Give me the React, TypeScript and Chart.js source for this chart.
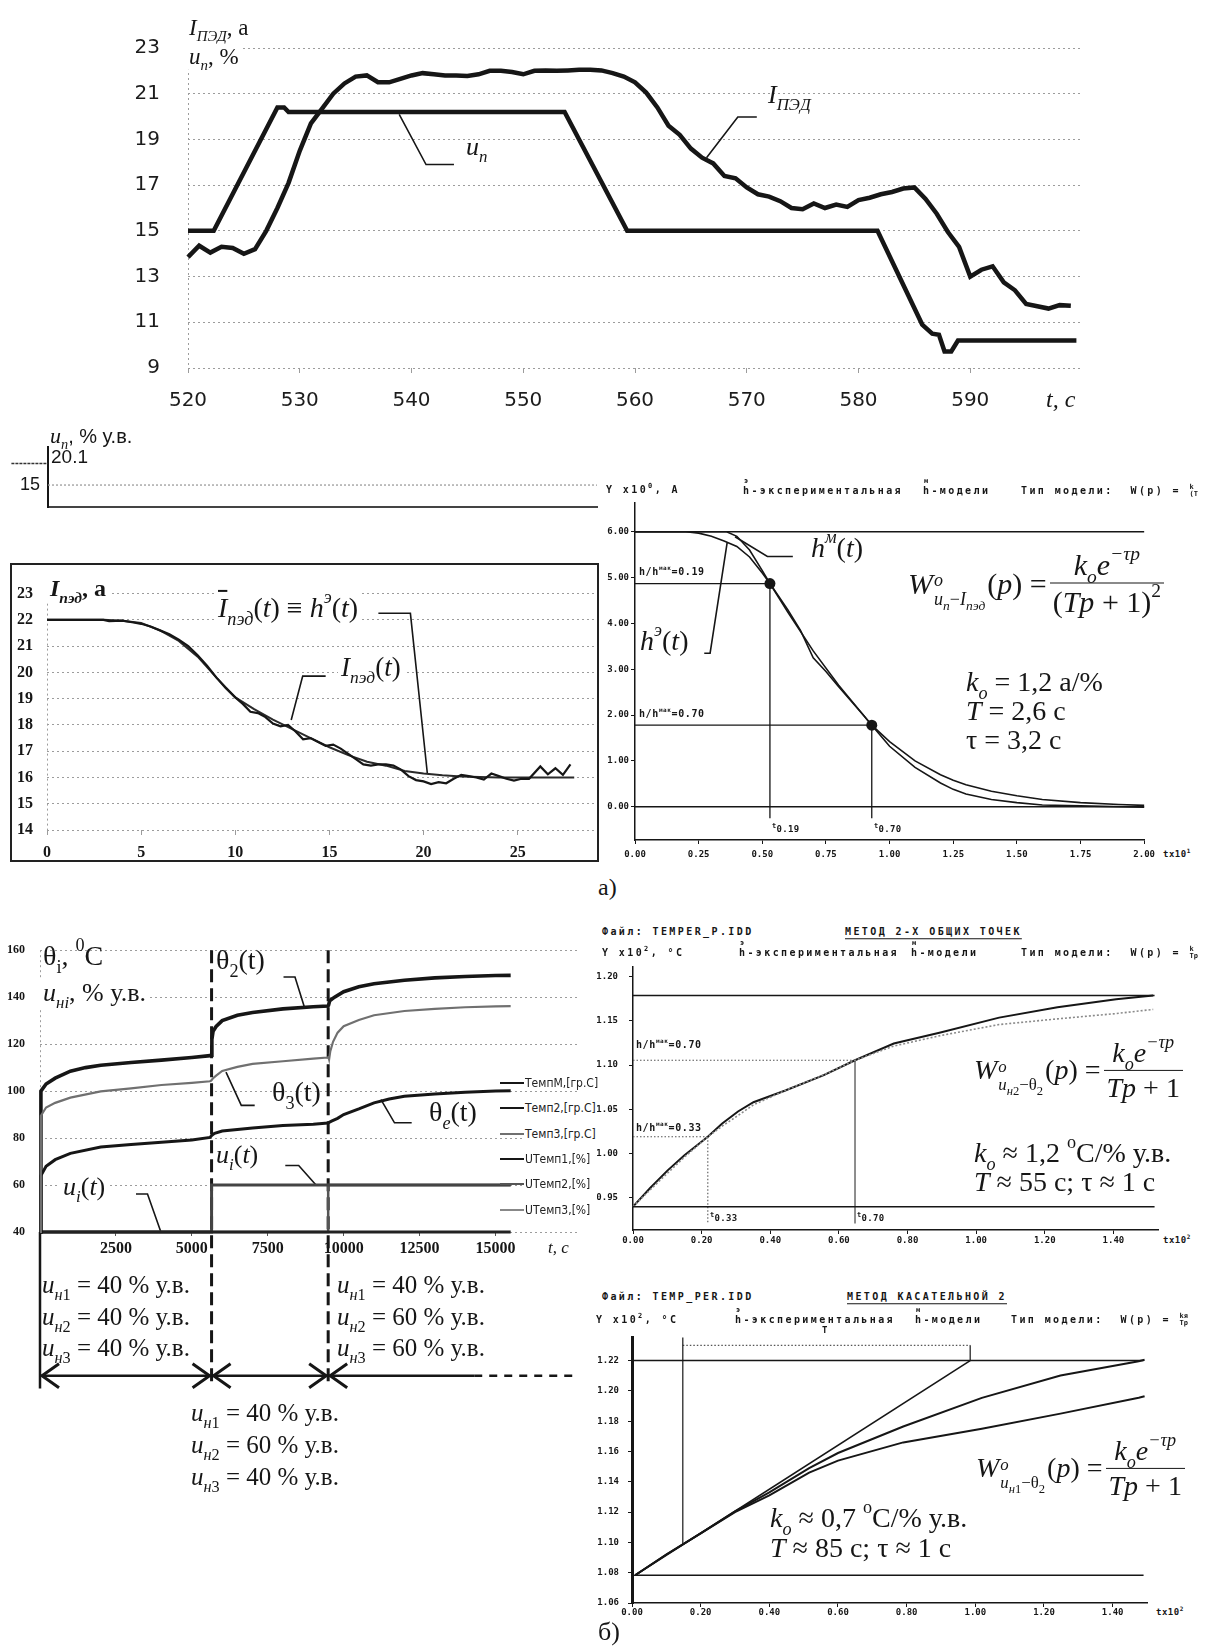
import React, { useEffect, useMemo, useRef } from "react";
import { Chart, registerables } from "chart.js";

Chart.register(...registerables);

const INK = "#161616";
const GRID = "#9c9c9c";
const MIDGRAY = "#707070";
const NONE = "rgba(0,0,0,0)";
const SERIF = "'Liberation Serif', 'Times New Roman', serif";
const SANS = "'Liberation Sans', Arial, sans-serif";
const MONO = "'DejaVu Sans Mono', 'Liberation Mono', monospace";
const VERD = "'DejaVu Sans', Verdana, sans-serif";
const NARROW = "'Liberation Sans Narrow', 'DejaVu Sans Condensed', 'Liberation Sans', sans-serif";

/* ================= (а) top: motor current and control, t = 520..600 s ================= */
const topTime = [520, 521, 522, 523, 524, 525, 526, 527, 528, 529, 530, 531, 532, 533, 534, 535, 536, 537, 538, 539, 540, 541, 542, 543, 544, 545, 546, 547, 548, 549, 550, 551, 552, 553, 554, 555, 556, 557, 558, 559, 560, 561, 562, 563, 564, 565, 566, 567, 568, 569, 570, 571, 572, 573, 574, 575, 576, 577, 578, 579, 580, 581, 582, 583, 584, 585, 586, 587, 588, 589, 590, 591, 592, 593, 594, 595, 596, 597, 598, 599];
const topCurrent = [13.85, 14.35, 14.05, 14.3, 14.25, 14.0, 14.2, 15.0, 16.0, 17.1, 18.5, 19.7, 20.35, 21.0, 21.45, 21.75, 21.8, 21.5, 21.5, 21.65, 21.8, 21.9, 21.85, 21.8, 21.8, 21.78, 21.85, 22.0, 22.0, 21.95, 21.85, 22.0, 22.02, 22.0, 22.02, 22.05, 22.05, 22.02, 21.9, 21.75, 21.5, 21.05, 20.4, 19.6, 19.2, 18.6, 18.2, 17.95, 17.4, 17.3, 16.9, 16.6, 16.5, 16.3, 16.0, 15.95, 16.2, 16.0, 16.15, 16.05, 16.35, 16.45, 16.6, 16.7, 16.85, 16.9, 16.4, 15.75, 14.95, 14.3, 13.0, 13.3, 13.45, 12.75, 12.4, 11.8, 11.7, 11.6, 11.75, 11.72];
const topCtrlTime = [520, 522.3, 528, 528.6, 529, 553.7, 559.3, 581.7, 585.7, 586.6, 587.2, 587.7, 588.3, 588.9, 599.5];
const topCtrl = [15, 15, 20.4, 20.4, 20.2, 20.2, 15, 15, 10.9, 10.5, 10.45, 9.72, 9.72, 10.2, 10.2];
const topYTicks = [9, 11, 13, 15, 17, 19, 21, 23];
const topXTicks = [520, 530, 540, 550, 560, 570, 580, 590];
const topLeaderUT = [538.9, 541.3, 543.8];
const topLeaderUV = [20.1, 17.9, 17.9];
const topLeaderIT = [570.9, 569.2, 566.4];
const topLeaderIV = [19.98, 19.98, 18.2];

/* step of control u_n */
const stepPreTime = [-2, 0];
const stepPostTime = [0, 30];
const stepBefore = 20.1;
const stepAfter = 15;

/* ================= (а) middle-left: current after the step ================= */
const mlTime = [0, 1, 2, 3, 4, 5, 6, 7, 8, 9, 10, 11, 12, 13, 14, 15, 16, 17, 18, 19, 20, 21, 22, 23, 24, 25, 26, 27, 28];
const mlSmooth = [22, 22, 22, 22, 21.97, 21.88, 21.6, 21.2, 20.6, 19.8, 19.05, 18.6, 18.2, 17.85, 17.5, 17.15, 16.85, 16.6, 16.45, 16.25, 16.15, 16.08, 16.04, 16.02, 16.0, 16.0, 16.0, 16.0, 16.0];
const mlNoisyTime = [0, 1, 2, 3, 3.3, 4, 4.6, 5, 5.5, 6, 6.5, 7, 7.5, 8, 8.5, 9, 9.5, 10, 10.4, 10.8, 11.2, 11.6, 12, 12.4, 12.8, 13.2, 13.6, 14, 14.4, 14.8, 15.2, 15.6, 16, 16.4, 16.8, 17.2, 17.6, 18, 18.4, 18.8, 19.2, 19.6, 20, 20.4, 20.8, 21.2, 21.6, 22, 22.4, 22.8, 23.2, 23.6, 24, 24.4, 24.8, 25.2, 25.6, 26.2, 26.6, 27, 27.4, 27.8];
const mlNoisy = [22, 22, 22, 22, 21.95, 21.97, 21.9, 21.85, 21.75, 21.6, 21.45, 21.25, 21.0, 20.65, 20.25, 19.8, 19.4, 19.05, 18.8, 18.5, 18.45, 18.3, 18.05, 17.95, 18.0, 17.75, 17.45, 17.5, 17.35, 17.2, 17.25, 17.1, 16.9, 16.7, 16.5, 16.45, 16.5, 16.5, 16.45, 16.3, 16.05, 15.9, 15.85, 15.75, 15.82, 15.78, 15.95, 16.1, 16.05, 16.0, 15.92, 16.15, 16.05, 15.95, 15.88, 15.95, 15.95, 16.42, 16.12, 16.35, 16.1, 16.5];
const mlYTicks = [14, 15, 16, 17, 18, 19, 20, 21, 22, 23];
const mlXTicks = [0, 5, 10, 15, 20, 25];
const mlLeaderHT = [17.6, 19.3, 20.2];
const mlLeaderHV = [22.25, 22.25, 16.15];
const mlLeaderIT = [14.8, 13.58, 12.97];
const mlLeaderIV = [19.86, 19.86, 18.19];

/* ================= (а) middle-right: identification (×10 s) ================= */
const mrModelT = [0, 0.36, 0.4, 0.45, 0.5, 0.53, 0.6, 0.7, 0.8, 0.93, 1.0, 1.1, 1.2, 1.25, 1.3, 1.4, 1.5, 1.6, 1.75, 1.9, 2.0];
const mrModelV = [6, 6, 5.9, 5.6, 5.15, 4.87, 4.25, 3.4, 2.65, 1.78, 1.42, 1.0, 0.7, 0.58, 0.48, 0.34, 0.24, 0.16, 0.09, 0.05, 0.03];
const mrExpT = [0, 0.2, 0.25, 0.3, 0.35, 0.4, 0.45, 0.5, 0.53, 0.6, 0.65, 0.7, 0.75, 0.8, 0.9, 0.93, 1.0, 1.1, 1.2, 1.25, 1.3, 1.4, 1.5, 1.6, 1.75, 2.0];
const mrExpV = [6, 6, 5.97, 5.9, 5.8, 5.68, 5.45, 5.1, 4.87, 4.3, 3.85, 3.25, 2.95, 2.62, 1.98, 1.78, 1.32, 0.86, 0.52, 0.38, 0.28, 0.16, 0.09, 0.04, 0.02, -0.01];
const mrLevels = [6, 0];
const mrPointT = [0.53, 0.93];
const mrPointV = [4.87, 1.78];
const mrFoot = -0.25;
const mrXTicks = [0, 0.25, 0.5, 0.75, 1.0, 1.25, 1.5, 1.75, 2.0];
const mrYTicks = [0, 1, 2, 3, 4, 5, 6];
const mrLeaderMT = [0.393, 0.52, 0.62];
const mrLeaderMV = [5.89, 5.46, 5.46];
const mrLeaderET = [0.362, 0.295, 0.272];
const mrLeaderEV = [5.76, 3.35, 3.35];

/* ================= (б) left: temperatures and controls ================= */
const th2T = [0, 30, 200, 500, 1000, 1500, 2000, 3000, 4000, 5000, 5600, 5640, 5660, 5700, 5800, 6000, 6500, 7000, 8000, 9000, 9480, 9500, 9540, 9700, 10000, 10500, 11000, 12000, 13000, 14000, 15000, 15500];
const th2V = [40, 100, 103, 105.5, 108.5, 110, 111, 112.2, 113.2, 114.3, 115.1, 115.3, 122, 125.5, 127.5, 130, 132.3, 133.5, 135, 135.9, 136.2, 136.5, 138.5, 140, 142.3, 144.4, 145.7, 147.2, 148.2, 148.8, 149.2, 149.3];
const th3T = [0, 30, 200, 500, 1000, 2000, 3000, 4000, 5000, 5600, 5640, 5700, 5800, 6000, 6500, 7000, 8000, 9000, 9470, 9500, 9520, 9560, 9650, 9800, 10000, 10500, 11000, 12000, 13000, 14000, 15000, 15500];
const th3V = [40, 89.5, 93, 95, 97.2, 99.9, 101.2, 102.6, 103.5, 104.2, 104.5, 105.5, 106.6, 108.6, 110.3, 111.6, 112.7, 113.8, 114.3, 114.5, 113.5, 117, 121, 124.9, 127.6, 130.3, 132.3, 134.1, 135, 135.7, 136.1, 136.2];
const thMT = [0, 30, 200, 500, 1000, 2000, 3000, 4000, 5000, 5600, 5660, 5750, 6000, 7000, 8000, 9000, 9480, 9600, 9800, 10000, 10500, 11000, 11500, 12000, 13000, 14000, 15000, 15500];
const thMV = [40, 64, 68, 70.8, 73.5, 76.2, 77.3, 78.2, 79.2, 80.3, 81.2, 82, 83, 84.3, 85.3, 85.9, 86.4, 87.2, 88.4, 90, 92.4, 95, 96.6, 97.8, 98.8, 99.5, 100, 100.1];
const u1T = [0, 15500];
const u1V = [40, 40];
const u2T = [0, 5650, 5650, 15500];
const u2V = [40, 40, 60, 60];
const u3T = [0, 9490, 9490, 15500];
const u3V = [40, 40, 60, 60];
const switchTimes = [5650, 9490];
const phaseBounds = [0, 5650, 9490];
const phaseArrowLevel = -21.2;
const phaseLineEnd = 14300;
const phaseDashEnd = 17600;
const blYTicks = [40, 60, 80, 100, 120, 140, 160];
const blXTicks = [0, 2500, 5000, 7500, 10000, 12500, 15000];
const blLeaders = [
  { t: [8019, 8397, 8711], v: [148.6, 148.6, 135.6] },
  { t: [7070, 6629, 6125], v: [93.9, 93.9, 108.1] },
  { t: [12240, 11674, 11229], v: [86.5, 86.5, 96.4] },
  { t: [8078, 8519, 9089], v: [68.3, 68.3, 60] },
  { t: [3161, 3540, 3981], v: [56.2, 56.2, 40] },
];
const legendLabels = ["ТемпМ,[гр.С]", "Темп2,[гр.С]", "Темп3,[гр.С]", "UТемп1,[%]", "UТемп2,[%]", "UТемп3,[%]"];

/* ================= (б) right-top: method of two common points (×100 s) ================= */
const b8T = [0, 0.05, 0.101, 0.15, 0.218, 0.26, 0.306, 0.351, 0.442, 0.556, 0.647, 0.76, 0.896, 1.067, 1.237, 1.408, 1.516];
const b8Exp = [0.94, 0.961, 0.981, 0.998, 1.019, 1.034, 1.0475, 1.058, 1.071, 1.0886, 1.1054, 1.1243, 1.1368, 1.1536, 1.1654, 1.1743, 1.1786];
const b8Mod = [0.94, 0.959, 0.978, 0.996, 1.019, 1.031, 1.043, 1.055, 1.071, 1.089, 1.1054, 1.1215, 1.1333, 1.1458, 1.1522, 1.1582, 1.1629];
const b8Levels = [1.1786, 0.94];
const b8PointT = [0.218, 0.647];
const b8PointV = [1.019, 1.1054];
const b8Foot = 0.921;
const b8XTicks = [0, 0.2, 0.4, 0.6, 0.8, 1.0, 1.2, 1.4];
const b8YTicks = [0.95, 1.0, 1.05, 1.1, 1.15, 1.2];

/* ================= (б) right-bottom: tangent method (×100 s) ================= */
const b9T = [0.01, 0.1, 0.2, 0.3, 0.4, 0.516, 0.6, 0.79, 1.019, 1.248, 1.476, 1.493];
const b9Exp = [1.0785, 1.092, 1.106, 1.1205, 1.133, 1.149, 1.159, 1.1765, 1.1954, 1.2101, 1.2196, 1.2206];
const b9Mod = [1.0785, 1.092, 1.106, 1.12, 1.131, 1.146, 1.154, 1.166, 1.175, 1.185, 1.1955, 1.1965];
const b9TangentT = [0.01, 0.985];
const b9TangentV = [1.0785, 1.22];
const b9Levels = [1.22, 1.0783];
const b9BracketT = [0.148, 0.985];
const b9BracketV = 1.2301;
const b9AxisTop = 1.2353;
const b9TangentFoot = 1.0985;
const b9XTicks = [0, 0.2, 0.4, 0.6, 0.8, 1.0, 1.2, 1.4];
const b9YTicks = [1.06, 1.08, 1.1, 1.12, 1.14, 1.16, 1.18, 1.2, 1.22];

/* ================= helpers ================= */
const pts = (xs: number[], ys: number[]) => xs.map((x, i) => ({ x, y: ys[i] }));
const hl = (x0: number, x1: number, y: number) => [{ x: x0, y }, { x: x1, y }];
const vl = (x: number, y0: number, y1: number) => [{ x, y: y0 }, { x, y: y1 }];
const ds = (data: any[], color = INK, width = 2, extra: any = {}) => ({
  data,
  borderColor: color,
  backgroundColor: color,
  borderWidth: width,
  pointRadius: 0,
  fill: false,
  tension: 0,
  clip: false,
  ...extra,
});
const fixTicks = (arr: number[]) => (s: any) => {
  s.ticks = arr.map((v) => ({ value: v }));
};
const onlyAt = (v0: number, col: string) => (c: any) => (c.tick && c.tick.value === v0 ? col : NONE);
const fix2 = (v: any) => Number(v).toFixed(2);
const DOSFONT = { family: MONO, size: 9, weight: "bold" as const };

type Box = { x0: number; y0: number; x1: number; y1: number };
type Mar = { l: number; r: number; t: number; b: number };

function makeSpec(plot: Box, m: Mar, x: any, y: any, datasets: any[], plugins: any[] = []) {
  const style = {
    left: Math.round(plot.x0 - m.l),
    top: Math.round(plot.y0 - m.t),
    width: Math.round(plot.x1 - plot.x0 + m.l + m.r),
    height: Math.round(plot.y1 - plot.y0 + m.t + m.b),
  };
  const config = {
    type: "line",
    data: { datasets },
    plugins,
    options: {
      responsive: false,
      animation: false,
      devicePixelRatio: 1,
      events: [],
      layout: { autoPadding: false, padding: { left: 0, top: m.t, right: m.r, bottom: 0 } },
      plugins: { legend: { display: false }, tooltip: { enabled: false } },
      scales: {
        x: { type: "linear", ...x, afterFit: (s: any) => { s.height = m.b; } },
        y: { type: "linear", ...y, afterFit: (s: any) => { s.width = m.l; } },
      },
    },
  };
  return { style, config };
}

/* ---------- chart specs ---------- */
const specTop = () =>
  makeSpec(
    { x0: 187.5, y0: 20, x1: 1081.5, y1: 368 },
    { l: 75, r: 8, t: 12, b: 45 },
    {
      min: 520, max: 600,
      afterBuildTicks: fixTicks(topXTicks),
      ticks: { autoSkip: false, maxRotation: 0, font: { family: VERD, size: 20 }, color: "#1c1c1c", padding: 16 },
      grid: { color: onlyAt(520, GRID), tickColor: GRID, tickLength: 5, lineWidth: 1 },
      border: { display: false, dash: [2, 3] },
    },
    {
      min: 9, max: 23,
      afterBuildTicks: fixTicks(topYTicks),
      ticks: { autoSkip: false, font: { family: VERD, size: 20 }, color: "#1c1c1c", padding: 28 },
      grid: { color: GRID, lineWidth: 1, drawTicks: false },
      border: { display: false, dash: [2, 3] },
    },
    [
      ds(pts(topCtrlTime, topCtrl), INK, 4.5),
      ds(pts(topTime, topCurrent), INK, 4.5),
      ds(pts(topLeaderUT, topLeaderUV), INK, 1.6),
      ds(pts(topLeaderIT, topLeaderIV), INK, 1.6),
    ]
  );

const specStep = () =>
  makeSpec(
    { x0: 48, y0: 432, x1: 597, y1: 522 },
    { l: 40, r: 4, t: 4, b: 4 },
    {
      min: 0, max: 30,
      ticks: { display: false },
      grid: { display: false },
      border: { display: true, color: "#444", width: 2 },
    },
    {
      min: 9.74, max: 24.08,
      afterBuildTicks: fixTicks([stepAfter]),
      ticks: { font: { family: SANS, size: 18 }, color: INK, padding: 8 },
      grid: { display: false, drawTicks: false },
      border: { display: true, color: INK, width: 2 },
    },
    [
      ds(pts(stepPreTime, [stepBefore, stepBefore]), "#333", 1.6, { borderDash: [3, 1] }),
      ds(pts(stepPostTime, [stepAfter, stepAfter]), GRID, 1.3, { borderDash: [2, 2] }),
    ]
  );

const specMidLeft = () =>
  makeSpec(
    { x0: 46.7, y0: 587.7, x1: 597, y1: 830 },
    { l: 34, r: 1, t: 18, b: 30 },
    {
      min: 0, max: 29.21,
      afterBuildTicks: fixTicks(mlXTicks),
      ticks: { autoSkip: false, maxRotation: 0, font: { family: SERIF, size: 16, weight: "bold" }, color: INK, padding: 8 },
      grid: { color: onlyAt(0, GRID), tickColor: GRID, tickLength: 5 },
      border: { display: false, dash: [2, 3] },
    },
    {
      min: 14, max: 23,
      afterBuildTicks: fixTicks(mlYTicks),
      ticks: { autoSkip: false, font: { family: SERIF, size: 16, weight: "bold" }, color: INK, padding: 14 },
      grid: { color: GRID, drawTicks: false },
      border: { display: false, dash: [2, 3] },
    },
    [
      ds(pts(mlNoisyTime, mlNoisy), INK, 2.2),
      ds(pts(mlTime, mlSmooth), "#2a2a2a", 2),
      ds(pts(mlLeaderHT, mlLeaderHV), INK, 1.6),
      ds(pts(mlLeaderIT, mlLeaderIV), INK, 1.6),
    ]
  );

const dosAxis = (min: number, max: number, ticks: number[], padding: number, width = 1.5) => ({
  min, max,
  afterBuildTicks: fixTicks(ticks),
  ticks: { autoSkip: false, maxRotation: 0, callback: fix2, font: DOSFONT, color: INK, padding },
  grid: { drawOnChartArea: false, tickLength: 4, color: INK, tickColor: INK },
  border: { display: true, color: INK, width },
});

const specMidRight = () =>
  makeSpec(
    { x0: 635, y0: 497, x1: 1154, y1: 840 },
    { l: 40, r: 6, t: 2, b: 24 },
    dosAxis(0, 2, mrXTicks, 5),
    dosAxis(-0.725, 6.64, mrYTicks, 2),
    [
      ds(hl(0, 2, mrLevels[0]), INK, 1.5),
      ds(hl(0, 2, mrLevels[1]), INK, 1.5),
      ds(pts(mrModelT, mrModelV), INK, 1.6),
      ds(pts(mrExpT, mrExpV), INK, 1.6),
      ds(hl(0, mrPointT[0], mrPointV[0]), INK, 1.3),
      ds(hl(0, mrPointT[1], mrPointV[1]), INK, 1.3),
      ds(vl(mrPointT[0], mrPointV[0], mrFoot), INK, 1.3),
      ds(vl(mrPointT[1], mrPointV[1], mrFoot), INK, 1.3),
      ds(pts(mrPointT, mrPointV), INK, 0, { showLine: false, pointRadius: 5.5, pointBackgroundColor: INK, pointBorderWidth: 0 }),
      ds(pts(mrLeaderMT, mrLeaderMV), INK, 1.6),
      ds(pts(mrLeaderET, mrLeaderEV), INK, 1.6),
    ]
  );

const phaseArrowPlugin = {
  id: "phaseArrows",
  afterDatasetsDraw(chart: any) {
    const xs = chart.scales.x;
    const ys = chart.scales.y;
    const yA = ys.getPixelForValue(phaseArrowLevel);
    const ctx = chart.ctx;
    ctx.save();
    ctx.strokeStyle = INK;
    ctx.lineWidth = 3;
    phaseBounds.forEach((t, i) => {
      const x = xs.getPixelForValue(t);
      ctx.beginPath();
      ctx.moveTo(x + 19, yA - 12);
      ctx.lineTo(x + 2, yA);
      ctx.lineTo(x + 19, yA + 12);
      ctx.stroke();
      if (i > 0) {
        ctx.beginPath();
        ctx.moveTo(x - 19, yA - 12);
        ctx.lineTo(x - 2, yA);
        ctx.lineTo(x - 19, yA + 12);
        ctx.stroke();
      }
    });
    ctx.restore();
  },
};

const specBottomLeft = () =>
  makeSpec(
    { x0: 40, y0: 933.5, x1: 578, y1: 1231.5 },
    { l: 36, r: 6, t: 6, b: 170 },
    {
      min: 0, max: 17717,
      afterBuildTicks: fixTicks(blXTicks),
      ticks: { autoSkip: false, maxRotation: 0, callback: (v: any) => (Number(v) === 0 ? "" : String(v)), font: { family: SERIF, size: 16, weight: "bold" }, color: INK, padding: 3 },
      grid: { color: onlyAt(0, GRID), tickColor: "#555", tickLength: 4 },
      border: { display: false, dash: [2, 3] },
    },
    {
      min: 40, max: 160,
      afterBuildTicks: fixTicks(blYTicks),
      ticks: { autoSkip: false, font: { family: SERIF, size: 12, weight: "bold" }, color: INK, padding: 15 },
      grid: { color: GRID, drawTicks: false },
      border: { display: false, dash: [2, 3] },
    },
    [
      ds(pts(th3T, th3V), MIDGRAY, 2.2),
      ds(pts(thMT, thMV), INK, 3),
      ds(pts(th2T, th2V), INK, 3.6),
      ds(pts(u1T, u1V), "#222", 3),
      ds(pts(u2T, u2V), "#444", 3),
      ds(pts(u3T, u3V), "#555", 2.5),
      ds(vl(switchTimes[0], 160, -24.6), INK, 3, { borderDash: [13, 6] }),
      ds(vl(switchTimes[1], 160, -24.6), INK, 3, { borderDash: [13, 6] }),
      ds(vl(phaseBounds[0], 40, -26.6), INK, 2.5),
      ds(hl(phaseBounds[0], phaseLineEnd, phaseArrowLevel), INK, 2.6),
      ds(hl(phaseLineEnd, phaseDashEnd, phaseArrowLevel), INK, 2.6, { borderDash: [8, 7] }),
      ...blLeaders.map((l) => ds(pts(l.t, l.v), INK, 1.6)),
    ],
    [phaseArrowPlugin]
  );

const specB8 = () =>
  makeSpec(
    { x0: 632.5, y0: 952, x1: 1157.3, y1: 1230 },
    { l: 36, r: 4, t: 2, b: 18 },
    dosAxis(0, 1.53, b8XTicks, 1),
    dosAxis(0.9136, 1.2115, b8YTicks, 11),
    [
      ds(hl(0, 1.52, b8Levels[0]), INK, 1.5),
      ds(hl(0, 1.52, b8Levels[1]), INK, 1.5),
      ds(pts(b8T, b8Mod), "#8a8a8a", 1.6, { borderDash: [2, 2] }),
      ds(pts(b8T, b8Exp), INK, 2),
      ds(hl(0, b8PointT[0], b8PointV[0]), "#555", 1.1, { borderDash: [1.5, 2] }),
      ds(vl(b8PointT[0], b8PointV[0], b8Foot), "#555", 1.1, { borderDash: [1.5, 2] }),
      ds(hl(0, b8PointT[1], b8PointV[1]), "#555", 1.1, { borderDash: [1.5, 2] }),
      ds(vl(b8PointT[1], b8PointV[1], b8Foot), "#333", 1.1),
    ]
  );

const specB9 = () =>
  makeSpec(
    { x0: 632, y0: 1325, x1: 1146.5, y1: 1603.3 },
    { l: 36, r: 4, t: 2, b: 18 },
    dosAxis(0, 1.5, b9XTicks, 0),
    dosAxis(1.06, b9AxisTop, b9YTicks, 9, 3),
    [
      ds(hl(0, 1.49, b9Levels[0]), INK, 1.5),
      ds(hl(0, 1.49, b9Levels[1]), INK, 1.5),
      ds(pts(b9TangentT, b9TangentV), INK, 1.6),
      ds(pts(b9T, b9Mod), INK, 2),
      ds(pts(b9T, b9Exp), INK, 2),
      ds(vl(b9BracketT[0], b9AxisTop, b9TangentFoot), INK, 1.2),
      ds(hl(b9BracketT[0], b9BracketT[1], b9BracketV), "#555", 1.2, { borderDash: [1.5, 2] }),
      ds(vl(b9BracketT[1], b9TangentV[1], b9BracketV), INK, 1.2),
    ]
  );

/* ---------- components ---------- */
function ChartCanvas({ make }: any) {
  const ref = useRef<HTMLCanvasElement>(null);
  const style = useMemo(() => make().style, [make]);
  useEffect(() => {
    const spec = make();
    const chart = new Chart(ref.current as HTMLCanvasElement, spec.config as any);
    return () => chart.destroy();
  }, [make]);
  return (
    <canvas
      ref={ref}
      width={style.width}
      height={style.height}
      style={{ position: "absolute", left: style.left, top: style.top, width: style.width, height: style.height }}
    />
  );
}

const T = ({ x, y, s = 24, f = SERIF, i = false, b = false, bg = false, c = INK, st = {}, children }: any) => (
  <div
    style={{
      position: "absolute",
      left: x,
      top: y,
      transform: "translateY(-50%)",
      fontFamily: f,
      fontSize: s,
      fontStyle: i ? "italic" : "normal",
      fontWeight: b ? 700 : 400,
      whiteSpace: "nowrap",
      lineHeight: 1.15,
      color: c,
      background: bg ? "#fff" : "transparent",
      padding: bg ? "0 3px" : 0,
      ...st,
    }}
  >
    {children}
  </div>
);
const Sb = ({ s = 0.65, children }: any) => (
  <span style={{ fontSize: `${s}em`, position: "relative", top: "0.42em", lineHeight: 0 }}>{children}</span>
);
const Sp = ({ s = 0.65, children }: any) => (
  <span style={{ fontSize: `${s}em`, position: "relative", top: "-0.75em", lineHeight: 0 }}>{children}</span>
);
const D = ({ x, y, s = 10, ls = 2.4, u = false, children }: any) => (
  <T x={x} y={y} s={s} f={MONO} b st={{ letterSpacing: ls, textDecoration: u ? "underline" : "none", textUnderlineOffset: 3 }}>
    {children}
  </T>
);
const HS = ({ ch }: any) => (
  <span style={{ position: "relative" }}>
    h
    <span style={{ position: "absolute", left: 1, top: -8, fontSize: 7, letterSpacing: 0 }}>{ch}</span>
  </span>
);
const Frac = ({ n, d }: any) => (
  <span style={{ display: "inline-flex", flexDirection: "column", alignItems: "center", verticalAlign: "middle", margin: "0 3px" }}>
    <span style={{ lineHeight: 1.2, padding: "0 3px" }}>{n}</span>
    <span style={{ alignSelf: "stretch", borderTop: `1.6px solid ${INK}` }} />
    <span style={{ lineHeight: 1.2, padding: "0 3px" }}>{d}</span>
  </span>
);
const Formula = ({ x, y, s, sub, den }: any) => (
  <div
    style={{
      position: "absolute",
      left: x,
      top: y,
      transform: "translateY(-50%)",
      fontFamily: SERIF,
      fontSize: s,
      color: INK,
      whiteSpace: "nowrap",
      display: "flex",
      alignItems: "center",
    }}
  >
    <span style={{ display: "inline-flex", alignItems: "center" }}>
      <i>W</i>
      <span style={{ display: "inline-flex", flexDirection: "column", fontSize: "0.6em", lineHeight: 1.05, marginLeft: 1, position: "relative", top: "0.35em" }}>
        <i>o</i>
        <span>{sub}</span>
      </span>
      <span style={{ marginLeft: 2 }}>
        (<i>p</i>) =
      </span>
    </span>
    <Frac
      n={
        <>
          <i>k</i>
          <Sb>
            <i>o</i>
          </Sb>
          <i>e</i>
          <Sp>
            <i>−τp</i>
          </Sp>
        </>
      }
      d={den}
    />
  </div>
);
const TypeModel = ({ x, y, n, d }: any) => (
  <D x={x} y={y}>
    Тип модели:&nbsp; W(p) ={" "}
    <span style={{ display: "inline-flex", flexDirection: "column", fontSize: 7, lineHeight: 1, verticalAlign: "middle", letterSpacing: 0 }}>
      <span>{n}</span>
      <span>{d}</span>
    </span>
  </D>
);
const HH = ({ x, y, v }: any) => (
  <D x={x} y={y} s={10} ls={0.6}>
    h/h<span style={{ fontSize: 6, position: "relative", top: -5 }}>мак</span>={v}
  </D>
);
const TSub = ({ x, y, v }: any) => (
  <D x={x} y={y} s={9} ls={0.3}>
    <span style={{ fontSize: 7, position: "relative", top: -4 }}>t</span>
    {v}
  </D>
);
const Un = ({ k, v }: any) => (
  <>
    <i>u</i>
    <Sb>
      <i>н</i>
      {k}
    </Sb>{" "}
    = {v} % у.в.
  </>
);

const legendColors = [INK, INK, MIDGRAY, INK, "#555", "#888"];

export default function App() {
  return (
    <div style={{ position: "absolute", left: 0, top: 0, width: 1205, height: 1647, overflow: "hidden", background: "#fff" }}>
      {/* frame of the middle-left chart */}
      <div style={{ position: "absolute", left: 10, top: 563, width: 589, height: 299, border: "2px solid #222", boxSizing: "border-box" }} />

      <ChartCanvas make={specTop} />
      <ChartCanvas make={specStep} />
      <ChartCanvas make={specMidLeft} />
      <ChartCanvas make={specMidRight} />
      <ChartCanvas make={specBottomLeft} />
      <ChartCanvas make={specB8} />
      <ChartCanvas make={specB9} />

      {/* ---- top chart texts ---- */}
      <T x={186} y={28} s={23} bg>
        <i>I</i>
        <Sb>
          <i>ПЭД</i>
        </Sb>
        , а
      </T>
      <T x={186} y={57} s={23} bg>
        <i>u</i>
        <Sb>
          <i>n</i>
        </Sb>
        , %
      </T>
      <T x={466} y={147} s={26}>
        <i>u</i>
        <Sb>
          <i>n</i>
        </Sb>
      </T>
      <T x={768} y={95} s={26}>
        <i>I</i>
        <Sb>
          <i>ПЭД</i>
        </Sb>
      </T>
      <T x={1046} y={400} s={24} i>
        t, c
      </T>

      {/* ---- step strip ---- */}
      <T x={50} y={436} s={22}>
        <i>u</i>
        <Sb>
          <i>n</i>
        </Sb>
        <span style={{ fontFamily: SANS, fontSize: 20 }}>, % у.в.</span>
      </T>
      <T x={51} y={457} s={19} f={SANS}>
        20.1
      </T>

      {/* ---- middle-left texts ---- */}
      <T x={47} y={589} s={24} b bg>
        <i>I</i>
        <Sb>
          <i>пэд</i>
        </Sb>
        , а
      </T>
      <T x={215} y={608} s={28} bg>
        <i style={{ textDecoration: "overline" }}>I</i>
        <Sb>
          <i>пэд</i>
        </Sb>
        (<i>t</i>) ≡ <i>h</i>
        <Sp>
          <i>э</i>
        </Sp>
        (<i>t</i>)
      </T>
      <T x={338} y={668} s={27} bg>
        <i>I</i>
        <Sb>
          <i>пэд</i>
        </Sb>
        (<i>t</i>)
      </T>

      {/* ---- middle-right texts ---- */}
      <D x={606} y={490}>
        Y x10<span style={{ fontSize: 7, position: "relative", top: -5 }}>0</span>, A
      </D>
      <D x={743} y={491}>
        <HS ch="э" />
        -экспериментальная
      </D>
      <D x={923} y={491}>
        <HS ch="м" />
        -модели
      </D>
      <TypeModel x={1021} y={491} n="k" d="(T" />
      <HH x={639} y={572} v="0.19" />
      <HH x={639} y={714} v="0.70" />
      <TSub x={772} y={829} v="0.19" />
      <TSub x={874} y={829} v="0.70" />
      <T x={811} y={548} s={28}>
        <i>h</i>
        <Sp>
          <i>м</i>
        </Sp>
        (<i>t</i>)
      </T>
      <T x={640} y={641} s={28}>
        <i>h</i>
        <Sp>
          <i>э</i>
        </Sp>
        (<i>t</i>)
      </T>
      <Formula
        x={908}
        y={583}
        s={30}
        sub={
          <>
            <i>u</i>
            <Sb s={0.75}>
              <i>n</i>
            </Sb>
            <span>−</span>
            <i>I</i>
            <Sb s={0.75}>
              <i>пэд</i>
            </Sb>
          </>
        }
        den={
          <>
            (<i>Tp</i> + 1)
            <Sp>2</Sp>
          </>
        }
      />
      <T x={966} y={682} s={28}>
        <i>k</i>
        <Sb>
          <i>o</i>
        </Sb>{" "}
        = 1,2 а/%
      </T>
      <T x={966} y={711} s={28}>
        <i>T</i> = 2,6 с
      </T>
      <T x={966} y={740} s={28}>
        τ = 3,2 с
      </T>
      <D x={1163} y={854} s={9} ls={0.5}>
        tx10<span style={{ fontSize: 6, position: "relative", top: -4 }}>1</span>
      </D>
      <T x={598} y={888} s={24}>
        а)
      </T>

      {/* ---- bottom-left texts ---- */}
      <T x={43} y={956} s={28}>
        θ<Sb>i</Sb>, <Sp>0</Sp>C
      </T>
      <T x={40} y={993} s={26} bg>
        <i>u</i>
        <Sb>
          <i>нi</i>
        </Sb>
        , % у.в.
      </T>
      <T x={216} y={960} s={28}>
        θ<Sb>2</Sb>(t)
      </T>
      <T x={272} y={1092} s={28}>
        θ<Sb>3</Sb>(t)
      </T>
      <T x={429} y={1112} s={28}>
        θ<Sb>
          <i>e</i>
        </Sb>
        (t)
      </T>
      <T x={216} y={1155} s={26}>
        <i>u</i>
        <Sb>
          <i>i</i>
        </Sb>
        (<i>t</i>)
      </T>
      <T x={60} y={1187} s={26} bg>
        <i>u</i>
        <Sb>
          <i>i</i>
        </Sb>
        (<i>t</i>)
      </T>
      <T x={548} y={1248} s={17} i>
        t, c
      </T>
      {legendLabels.map((lab, i) => (
        <div
          key={lab}
          style={{ position: "absolute", left: 500, top: 1083 + i * 25.3, transform: "translateY(-50%)", display: "flex", alignItems: "center" }}
        >
          <span style={{ display: "inline-block", width: 24, height: 0, borderTop: `2.5px solid ${legendColors[i]}` }} />
          <span style={{ fontFamily: NARROW, fontSize: 12, color: "#222", background: "#fff", paddingLeft: 1 }}>{lab}</span>
        </div>
      ))}
      <T x={42} y={1285} s={25}>
        <Un k="1" v="40" />
      </T>
      <T x={42} y={1317} s={25}>
        <Un k="2" v="40" />
      </T>
      <T x={42} y={1348} s={25}>
        <Un k="3" v="40" />
      </T>
      <T x={337} y={1285} s={25}>
        <Un k="1" v="40" />
      </T>
      <T x={337} y={1317} s={25}>
        <Un k="2" v="60" />
      </T>
      <T x={337} y={1348} s={25}>
        <Un k="3" v="60" />
      </T>
      <T x={191} y={1413} s={25}>
        <Un k="1" v="40" />
      </T>
      <T x={191} y={1445} s={25}>
        <Un k="2" v="60" />
      </T>
      <T x={191} y={1477} s={25}>
        <Un k="3" v="40" />
      </T>
      <T x={598} y={1632} s={26}>
        б)
      </T>

      {/* ---- chart 8 texts ---- */}
      <D x={602} y={932}>
        Файл: TEMPER_P.IDD
      </D>
      <D x={845} y={932} u>
        МЕТОД 2-Х ОБЩИХ ТОЧЕК
      </D>
      <D x={602} y={953}>
        Y x10<span style={{ fontSize: 7, position: "relative", top: -5 }}>2</span>, °C
      </D>
      <D x={739} y={953}>
        <HS ch="э" />
        -экспериментальная
      </D>
      <D x={911} y={953}>
        <HS ch="м" />
        -модели
      </D>
      <TypeModel x={1021} y={953} n="k" d="Tp" />
      <HH x={636} y={1045} v="0.70" />
      <HH x={636} y={1128} v="0.33" />
      <TSub x={710} y={1218} v="0.33" />
      <TSub x={857} y={1218} v="0.70" />
      <Formula
        x={974}
        y={1070}
        s={28}
        sub={
          <>
            <i>u</i>
            <Sb s={0.75}>
              <i>н</i>2
            </Sb>
            <span>−θ</span>
            <Sb s={0.75}>2</Sb>
          </>
        }
        den={
          <>
            <i>Tp</i> + 1
          </>
        }
      />
      <T x={974} y={1153} s={28}>
        <i>k</i>
        <Sb>
          <i>o</i>
        </Sb>{" "}
        ≈ 1,2 <Sp>o</Sp>C/% у.в.
      </T>
      <T x={974} y={1182} s={28}>
        <i>T</i> ≈ 55 с; τ ≈ 1 с
      </T>
      <D x={1163} y={1240} s={9} ls={0.5}>
        tx10<span style={{ fontSize: 6, position: "relative", top: -4 }}>2</span>
      </D>

      {/* ---- chart 9 texts ---- */}
      <D x={602} y={1297}>
        Файл: TEMP_PER.IDD
      </D>
      <D x={847} y={1297} u>
        МЕТОД КАСАТЕЛЬНОЙ 2
      </D>
      <D x={596} y={1320}>
        Y x10<span style={{ fontSize: 7, position: "relative", top: -5 }}>2</span>, °C
      </D>
      <D x={735} y={1320}>
        <HS ch="э" />
        -экспериментальная
      </D>
      <D x={915} y={1320}>
        <HS ch="м" />
        -модели
      </D>
      <TypeModel x={1011} y={1320} n="kя" d="Tp" />
      <D x={822} y={1330} s={9} ls={0}>
        T
      </D>
      <Formula
        x={976}
        y={1468}
        s={28}
        sub={
          <>
            <i>u</i>
            <Sb s={0.75}>
              <i>н</i>1
            </Sb>
            <span>−θ</span>
            <Sb s={0.75}>2</Sb>
          </>
        }
        den={
          <>
            <i>Tp</i> + 1
          </>
        }
      />
      <T x={770} y={1518} s={28}>
        <i>k</i>
        <Sb>
          <i>o</i>
        </Sb>{" "}
        ≈ 0,7 <Sp>o</Sp>C/% у.в.
      </T>
      <T x={770} y={1548} s={28}>
        <i>T</i> ≈ 85 с; τ ≈ 1 с
      </T>
      <D x={1156} y={1612} s={9} ls={0.5}>
        tx10<span style={{ fontSize: 6, position: "relative", top: -4 }}>2</span>
      </D>
    </div>
  );
}
